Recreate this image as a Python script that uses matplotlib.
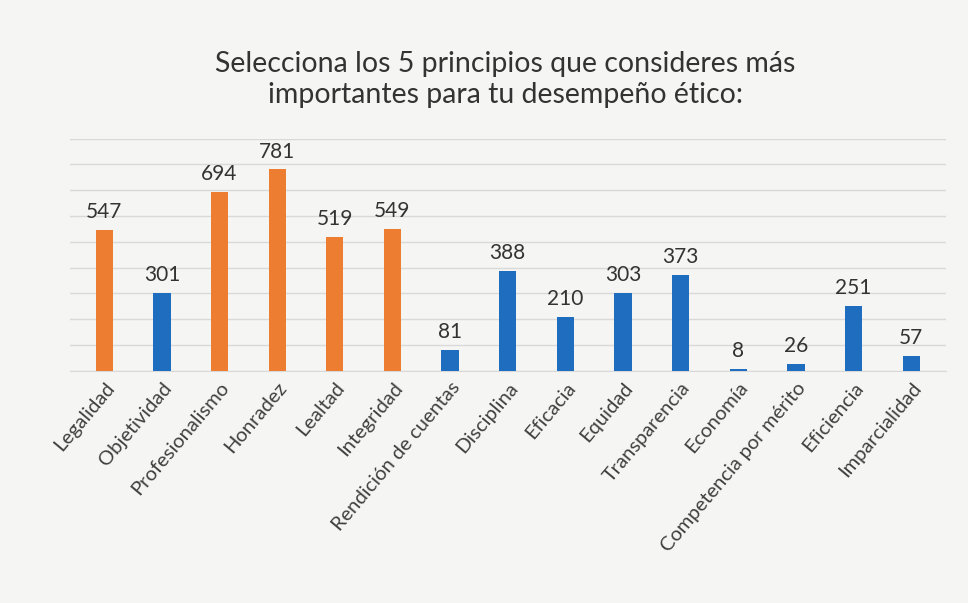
import matplotlib
matplotlib.use("Agg")
import matplotlib.pyplot as plt

categories = ["Legalidad", "Objetividad", "Profesionalismo", "Honradez", "Lealtad",
              "Integridad", "Rendición de cuentas", "Disciplina", "Eficacia", "Equidad",
              "Transparencia", "Economía", "Competencia por mérito", "Eficiencia",
              "Imparcialidad"]
values = [547, 301, 694, 781, 519, 549, 81, 388, 210, 303, 373, 8, 26, 251, 57]
highlight = ["Legalidad", "Profesionalismo", "Honradez", "Lealtad", "Integridad"]

ORANGE = "#ED7D31"
BLUE = "#1F6DBF"
colors = [ORANGE if c in highlight else BLUE for c in categories]

plt.rcParams['font.family'] = ['Lato', 'DejaVu Sans']

fig = plt.figure(figsize=(9.68, 6.03), dpi=100, facecolor="#f5f5f3")
ax = fig.add_axes([0.072, 0.385, 0.905, 0.385])
ax.set_facecolor("#f5f5f3")

x = list(range(len(categories)))
bars = ax.bar(x, values, width=0.3, color=colors, zorder=3)
for xi, v in zip(x, values):
    ax.text(xi, v + 30, str(v), ha="center", va="bottom", fontsize=15, color="#333333", zorder=4)

ax.set_ylim(0, 900)
ax.set_xlim(-0.6, len(categories) - 0.4)
ax.set_yticks(range(0, 901, 100))
ax.yaxis.grid(True, color="#d9d9d9", linewidth=1, zorder=0)
ax.tick_params(axis="y", left=False, labelleft=False)
ax.tick_params(axis="x", length=0, pad=6)
ax.set_xticks(x)
ax.set_xticklabels(categories, rotation=50, ha="right", rotation_mode="anchor",
                   fontsize=14.5, color="#404040")
for s in ["top", "right", "left"]:
    ax.spines[s].set_visible(False)
ax.spines["bottom"].set_color("#d9d9d9")

fig.text(0.522, 0.868, "Selecciona los 5 principios que consideres más\nimportantes para tu desempeño ético:",
         ha="center", va="center", fontsize=20.5, color="#333333", linespacing=1.2)

fig.savefig("out.png", dpi=100, facecolor=fig.get_facecolor())
